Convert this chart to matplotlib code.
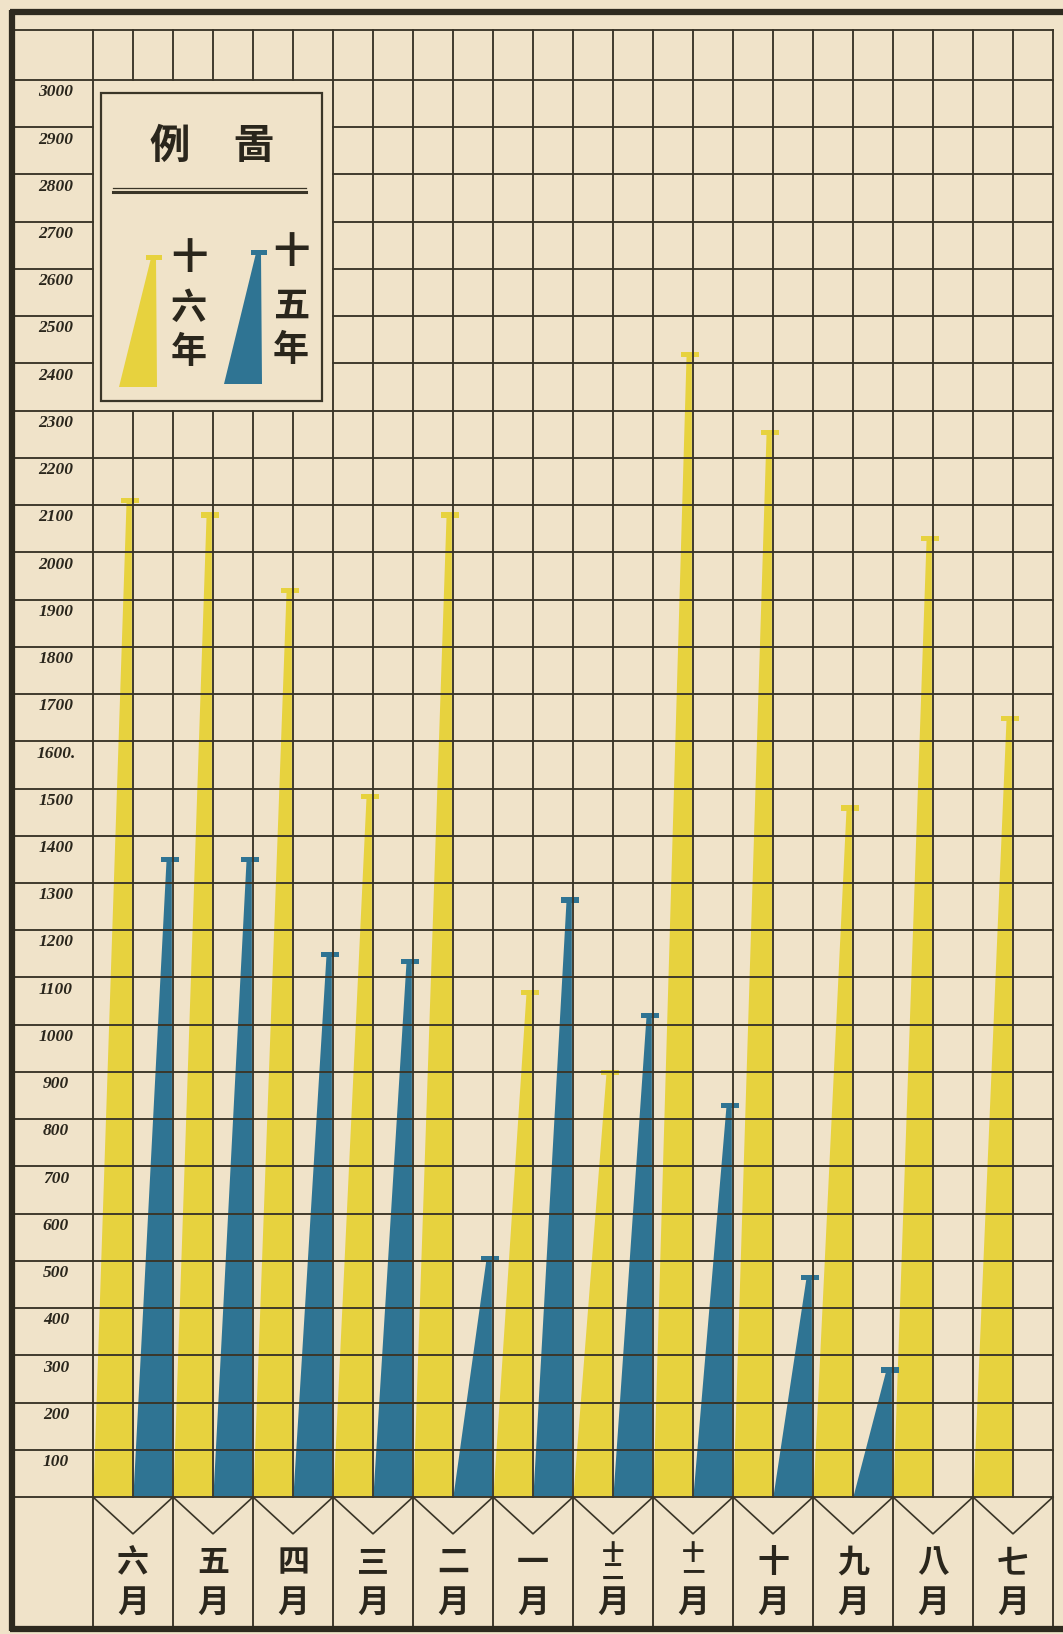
import matplotlib
matplotlib.use('Agg')
import matplotlib.pyplot as plt
from matplotlib.patches import Polygon, Rectangle

# ---------------- data ----------------
months = ['六月', '五月', '四月', '三月', '二月', '一月',
          '十二月', '十一月', '十月', '九月', '八月', '七月']
year16 = [2110, 2080, 1920, 1485, 2080, 1070, 900, 2420, 2255, 1460, 2030, 1650]   # 十六年 (yellow)
year15 = [1350, 1350, 1150, 1135, 505, 1265, 1020, 830, 465, 270, None, None]     # 十五年 (blue)
y_values = list(range(100, 3100, 100))
y_labels = [str(v) if v != 1600 else '1600.' for v in y_values]
legend_title = ['例', '啚']
series_names = ['十六年', '十五年']

# ---------------- style ----------------
PAPER = '#F0E3C9'
INK = '#3A3527'
YELLOW = '#E7D23E'
BLUE = '#2F7493'
plt.rcParams['font.family'] = ['Noto Sans CJK TC', 'DejaVu Sans']

W, H = 1063, 1634
X0, COLW = 93, 40.0          # pixel x of column 0, pixel width of a column
Y0, YTOP = 1497, 80          # pixel y of value 0 and value 3000
UNIT = (Y0 - YTOP) / 3000.0


def cx(px):
    return (px - X0) / COLW


def cy(py):
    return (Y0 - py) / UNIT


fig = plt.figure(figsize=(W / 100, H / 100), dpi=100, facecolor=PAPER)
ax = fig.add_axes([0, 0, 1, 1])
ax.set_facecolor(PAPER)
ax.set_xlim(cx(0), cx(W))
ax.set_ylim(cy(H), cy(0))
ax.axis('off')

NCOL = 2 * len(months)
HEAD = cy(30)          # inner top line
LEFT = cx(13)          # inner edge of thick left border
BOTTOM = cy(1628)
lw_grid = 1.35
LEG_C0, LEG_C1, LEG_V0, LEG_V1 = 0, 6, 2300, 3000   # blank block holding the legend

# ---------------- bars ----------------
def bar(xr, v, color):
    xl = xr - 1
    poly = Polygon([(xl + 0.01, 0), (xr - 0.02, 0), (xr - 0.03, v), (xr - 0.16, v)],
                   closed=True, facecolor=color, edgecolor='none', zorder=2)
    ax.add_patch(poly)
    cap_h = 11
    ax.add_patch(Rectangle((xr - 0.30, v - cap_h * 0.6), 0.44, cap_h,
                           facecolor=color, edgecolor='none', zorder=2))


for i, v in enumerate(year16):
    bar(2 * i + 1, v, YELLOW)
for i, v in enumerate(year15):
    if v is not None:
        bar(2 * i + 2, v, BLUE)

# ---------------- grid ----------------
for v in [0] + y_values:
    if LEG_V0 < v < LEG_V1:
        ax.plot([LEFT, LEG_C0], [v, v], color=INK, lw=lw_grid, zorder=3)
        ax.plot([LEG_C1, NCOL], [v, v], color=INK, lw=lw_grid, zorder=3)
    else:
        ax.plot([LEFT, NCOL], [v, v], color=INK, lw=lw_grid, zorder=3)
ax.plot([LEFT, NCOL], [HEAD, HEAD], color=INK, lw=lw_grid, zorder=3)

for c in range(NCOL + 1):
    if LEG_C0 < c < LEG_C1:
        ax.plot([c, c], [0, LEG_V0], color=INK, lw=lw_grid, zorder=3)
        ax.plot([c, c], [LEG_V1, HEAD], color=INK, lw=lw_grid, zorder=3)
    else:
        ax.plot([c, c], [0, HEAD], color=INK, lw=lw_grid, zorder=3)

# month row
vdepth = 78
for i in range(len(months) + 1):
    ax.plot([2 * i, 2 * i], [BOTTOM, 0], color=INK, lw=lw_grid, zorder=3)
for i, m in enumerate(months):
    ax.plot([2 * i, 2 * i + 1, 2 * i + 2], [0, -vdepth, 0], color=INK, lw=1.2, zorder=3)
    num = m[:-1]
    xc = 2 * i + 1
    if len(num) == 1:
        ax.text(xc, cy(1563), num, ha='center', va='center', fontsize=23,
                fontweight='bold', color='#2A261C', zorder=4)
    else:
        ax.text(xc, cy(1563), num[0] + '\n' + num[1], ha='center', va='center',
                fontsize=16, linespacing=0.78, fontweight='bold',
                color='#2A261C', zorder=4)
    ax.text(xc, cy(1603), m[-1], ha='center', va='center', fontsize=23,
            fontweight='bold', color='#2A261C', zorder=4)

# y labels in left column
for v, lab in zip(y_values, y_labels):
    ax.text(cx(56), v - 26, lab, ha='center', va='center', fontsize=12.5,
            family='Liberation Serif', style='italic', fontweight='bold',
            color='#2A261C', zorder=4)

# thick outer border
ax.plot([cx(10), cx(W)], [cy(12), cy(12)], color='#2E2A1F', lw=4.5,
        solid_capstyle='butt', zorder=5)
ax.plot([cx(12), cx(12)], [cy(10), cy(1631)], color='#2E2A1F', lw=4.5,
        solid_capstyle='butt', zorder=5)
ax.plot([cx(10), cx(W)], [cy(1629), cy(1629)], color='#2E2A1F', lw=4.5,
        solid_capstyle='butt', zorder=5)

# ---------------- legend ----------------
def P(px, py):
    return (cx(px), cy(py))


bx0, by0, bx1, by1 = 101, 93, 322, 401
ax.add_patch(Polygon([P(bx0, by0), P(bx1, by0), P(bx1, by1), P(bx0, by1)],
                     closed=True, facecolor='none', edgecolor=INK, lw=1.6, zorder=4))
ax.text(*P(170, 146), legend_title[0], ha='center', va='center', fontsize=29,
        fontweight='bold', color='#2A261C', zorder=5)
ax.text(*P(253, 146), legend_title[1], ha='center', va='center', fontsize=29,
        fontweight='bold', color='#2A261C', zorder=5)
ax.plot([cx(113), cx(306)], [cy(188), cy(188)], color=INK, lw=0.9, zorder=5)
ax.plot([cx(113), cx(306)], [cy(191.5), cy(191.5)], color=INK, lw=2.2, zorder=5)


def legend_bar(x_left, x_right, y_base, y_tip, color):
    ax.add_patch(Polygon([P(x_left, y_base), P(x_right, y_base), P(x_right - 1, y_tip),
                          P(x_right - 6, y_tip)], closed=True, facecolor=color,
                         edgecolor='none', zorder=5))
    ax.add_patch(Polygon([P(x_right - 11, y_tip - 3), P(x_right + 5, y_tip - 3),
                          P(x_right + 5, y_tip + 2), P(x_right - 11, y_tip + 2)],
                         closed=True, facecolor=color, edgecolor='none', zorder=5))


legend_bar(119, 157, 387, 258, YELLOW)
legend_bar(224, 262, 384, 253, BLUE)
for k, ch in enumerate(series_names[0]):
    ax.text(*P(189, [258, 308, 352][k]), ch, ha='center', va='center', fontsize=26,
            fontweight='bold', color='#2A261C', zorder=5)
for k, ch in enumerate(series_names[1]):
    ax.text(*P(291, [253, 306, 350][k]), ch, ha='center', va='center', fontsize=26,
            fontweight='bold', color='#2A261C', zorder=5)

fig.savefig('out.png', dpi=100, facecolor=PAPER)
